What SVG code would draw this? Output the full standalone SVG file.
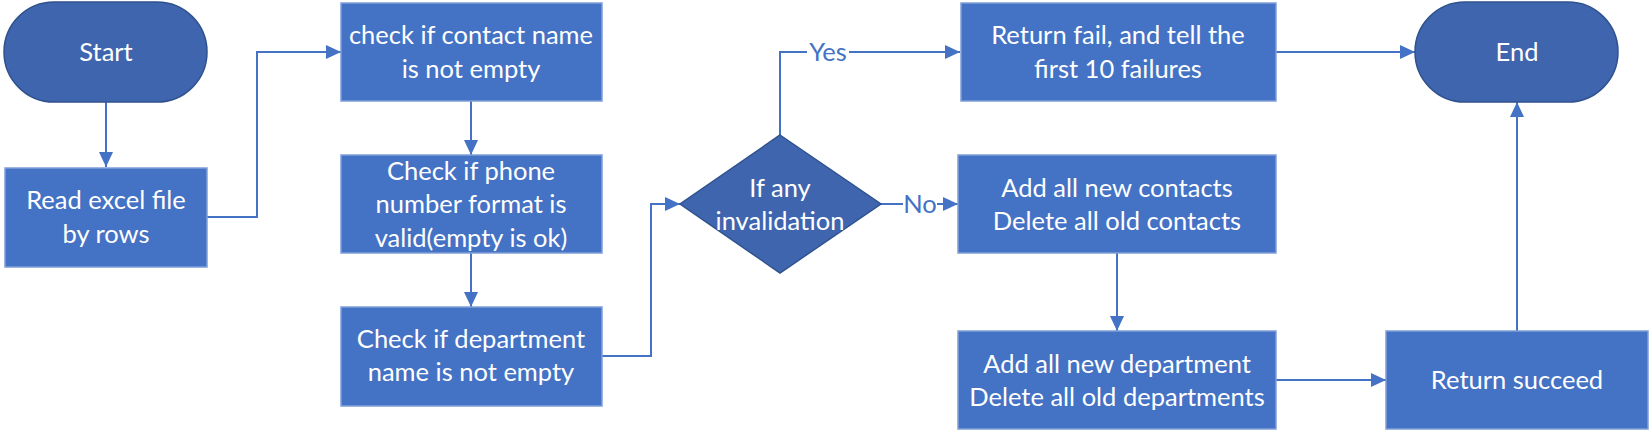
<svg xmlns="http://www.w3.org/2000/svg" width="1650" height="431" viewBox="0 0 1650 431">
<defs>
<marker id="ah" markerWidth="15" markerHeight="14" refX="15" refY="7" orient="auto" markerUnits="userSpaceOnUse">
<path d="M0,0 L15,7 L0,14 Z" fill="#4472C4"/>
</marker>
</defs>
<style>
.box{fill:#4472C4;stroke:#7F9FD8;stroke-width:1.5}
.term{fill:#3F65AE;stroke:#2F528F;stroke-width:1.5}
.t{font-family:Lato,"Open Sans",sans-serif;font-size:25.5px;fill:#FFFFFF;text-anchor:middle}
.lbl{font-family:Lato,"Open Sans",sans-serif;font-size:25.5px;fill:#4472C4;text-anchor:middle}
.c{fill:none;stroke:#4472C4;stroke-width:2}
</style>
<rect width="1650" height="431" fill="#FFFFFF"/>
<g id="connectors">
<path class="c" d="M106,102 V167" marker-end="url(#ah)"/>
<path class="c" d="M207,217 H257 V52 H341" marker-end="url(#ah)"/>
<path class="c" d="M471,101 V155" marker-end="url(#ah)"/>
<path class="c" d="M471,253 V307" marker-end="url(#ah)"/>
<path class="c" d="M602,356 H651 V204 H680" marker-end="url(#ah)"/>
<path class="c" d="M780,135 V52 H807"/>
<path class="c" d="M849,52 H960" marker-end="url(#ah)"/>
<path class="c" d="M881,204 H903"/>
<path class="c" d="M937,204 H958" marker-end="url(#ah)"/>
<path class="c" d="M1117,253 V331" marker-end="url(#ah)"/>
<path class="c" d="M1276,380 H1386" marker-end="url(#ah)"/>
<path class="c" d="M1517,331 V102" marker-end="url(#ah)"/>
<path class="c" d="M1276,52 H1415" marker-end="url(#ah)"/>
<text class="lbl" x="828" y="61">Yes</text>
<text class="lbl" x="920" y="213">No</text>
</g>
<g id="start">
<rect class="term" x="4" y="2" width="203" height="100" rx="50" ry="50"/>
<text class="t" x="106" y="61">Start</text>
</g>
<g id="read">
<rect class="box" x="5" y="168" width="202" height="99"/>
<text class="t" x="106" y="209">Read excel file</text>
<text class="t" x="106" y="243">by rows</text>
</g>
<g id="checkContact">
<rect class="box" x="341" y="3" width="261" height="98"/>
<text class="t" x="471" y="44">check if contact name</text>
<text class="t" x="471" y="78">is not empty</text>
</g>
<g id="checkPhone">
<rect class="box" x="341" y="155" width="261" height="98"/>
<text class="t" x="471" y="180">Check if phone</text>
<text class="t" x="471" y="213">number format is</text>
<text class="t" x="471" y="247">valid(empty is ok)</text>
</g>
<g id="checkDept">
<rect class="box" x="341" y="307" width="261" height="99"/>
<text class="t" x="471" y="348">Check if department</text>
<text class="t" x="471" y="381">name is not empty</text>
</g>
<g id="decision">
<polygon class="term" points="780,135 881,204 780,273 680,204"/>
<text class="t" x="780" y="197">If any</text>
<text class="t" x="780" y="230">invalidation</text>
</g>
<g id="returnFail">
<rect class="box" x="961" y="3" width="315" height="98"/>
<text class="t" x="1118" y="44">Return fail, and tell the</text>
<text class="t" x="1118" y="78">first 10 failures</text>
</g>
<g id="addContacts">
<rect class="box" x="958" y="155" width="318" height="98"/>
<text class="t" x="1117" y="197">Add all new contacts</text>
<text class="t" x="1117" y="230">Delete all old contacts</text>
</g>
<g id="addDepts">
<rect class="box" x="958" y="331" width="318" height="98"/>
<text class="t" x="1117" y="373">Add all new department</text>
<text class="t" x="1117" y="406">Delete all old departments</text>
</g>
<g id="returnSucceed">
<rect class="box" x="1386" y="331" width="262" height="98"/>
<text class="t" x="1517" y="389">Return succeed</text>
</g>
<g id="end">
<rect class="term" x="1415" y="2" width="203" height="100" rx="50" ry="50"/>
<text class="t" x="1517" y="61">End</text>
</g>
</svg>
